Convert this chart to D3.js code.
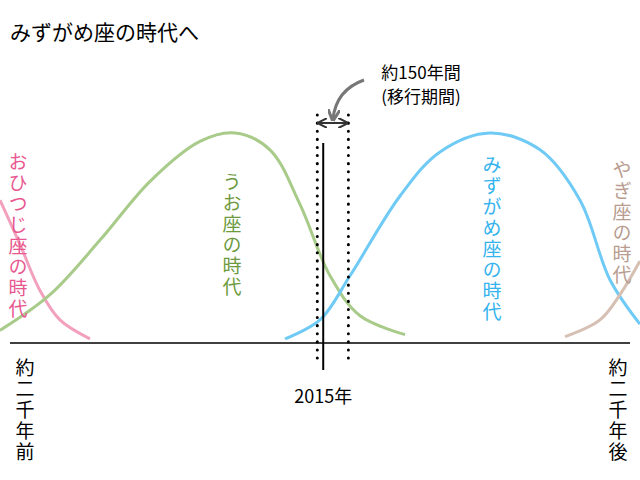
<!DOCTYPE html>
<html><head><meta charset="utf-8">
<script src="https://cdn.jsdelivr.net/npm/d3@7"></script>
<style>body{margin:0;background:#fff}text{font-family:"Noto Sans CJK JP",sans-serif}</style>
</head><body>
<script>
// curves: [year, relative height]
const aries = [[-169,0.68],[-34,0.47],[101,0.25],[236,0.11],[439,0.02]];
const pisces = [[-169,0.06],[169,0.23],[507,0.49],[845,0.77],[1182,0.96],[1419,1.0],[1655,0.92],[1858,0.66],[2061,0.32],[2264,0.13],[2568,0.04]];
const aquarius = [[1757,0.02],[1993,0.11],[2196,0.32],[2534,0.70],[2804,0.91],[3142,1.0],[3480,0.92],[3750,0.68],[3953,0.30],[4155,0.09]];
const capricorn = [[3649,0.03],[3885,0.11],[4020,0.23],[4155,0.39]];
const nowYear = 2015, transition = [1975, 2185];

const width = 640, height = 480;
const x = d3.scaleLinear().domain([0, 4000]).range([25, 617]);
const y = d3.scaleLinear().domain([0, 1]).range([343, 133]);

const svg = d3.select("body").append("svg").attr("width", width).attr("height", height);
svg.append("defs").append("marker").attr("id", "ah").attr("viewBox", "0 0 10 10")
    .attr("refX", 9).attr("refY", 5).attr("markerWidth", 5).attr("markerHeight", 5)
    .attr("orient", "auto-start-reverse")
    .append("path").attr("d", "M0,0L10,5L0,10").attr("fill", "none").attr("stroke", "#333").attr("stroke-width", 2);
svg.append("marker").attr("id", "gh").attr("viewBox", "0 0 10 10")
    .attr("refX", 8).attr("refY", 5).attr("markerWidth", 4).attr("markerHeight", 4).attr("orient", "auto")
    .append("path").attr("d", "M0,0L10,5L0,10").attr("fill", "none").attr("stroke", "#777").attr("stroke-width", 2.5);

const line = d3.line().x(d => x(d[0])).y(d => y(d[1])).curve(d3.curveCatmullRom);
const series = [
    {data: aries, color: "#f2a0bd"},
    {data: pisces, color: "#a8cb8a"},
    {data: aquarius, color: "#6fcaf5"},
    {data: capricorn, color: "#d6bfb3"}
];
series.forEach(s => svg.append("path").attr("d", line(s.data))
    .attr("fill", "none").attr("stroke", s.color).attr("stroke-width", 3));

// baseline
svg.append("line").attr("x1", 10).attr("x2", 630).attr("y1", y(0)).attr("y2", y(0))
    .attr("stroke", "#000").attr("stroke-width", 1.5);

// transition markers
transition.forEach(t => svg.append("line").attr("x1", x(t)).attr("x2", x(t)).attr("y1", 115).attr("y2", 360)
    .attr("stroke", "#000").attr("stroke-width", 3).attr("stroke-dasharray", "0.1 8").attr("stroke-linecap", "round"));
svg.append("line").attr("x1", x(nowYear)).attr("x2", x(nowYear)).attr("y1", 143).attr("y2", 370)
    .attr("stroke", "#000").attr("stroke-width", 2);
svg.append("line").attr("x1", x(transition[0]) + 1).attr("x2", x(transition[1]) - 1).attr("y1", 123).attr("y2", 123)
    .attr("stroke", "#333").attr("stroke-width", 2)
    .attr("marker-start", "url(#ah)").attr("marker-end", "url(#ah)");
svg.append("path").attr("d", `M364,80 Q336,90 333,119`).attr("fill", "none")
    .attr("stroke", "#777").attr("stroke-width", 3).attr("marker-end", "url(#gh)");

svg.append("text").attr("x", 10).attr("y", 40).attr("font-size", 21).text("みずがめ座の時代へ");
svg.append("text").attr("x", 421).attr("y", 79).attr("text-anchor", "middle").attr("font-size", 17).text("約150年間");
svg.append("text").attr("x", 421).attr("y", 103).attr("text-anchor", "middle").attr("font-size", 17).text("(移行期間)");
svg.append("text").attr("x", x(nowYear)).attr("y", 403).attr("text-anchor", "middle").attr("font-size", 18).text(nowYear + "年");

const vlabels = [
    {t: "おひつじ座の時代", x: 18, y: 152, c: "#e8578f"},
    {t: "うお座の時代", x: 232, y: 172, c: "#6e9a3e"},
    {t: "みずがめ座の時代", x: 492, y: 155, c: "#34b3ee"},
    {t: "やぎ座の時代", x: 622, y: 160, c: "#b89c8f"},
    {t: "約二千年前", x: 25, y: 358, c: "#000"},
    {t: "約二千年後", x: 618, y: 358, c: "#000"}
];
vlabels.forEach(l => svg.append("text").attr("x", l.x).attr("y", l.y)
    .attr("writing-mode", "vertical-rl").attr("font-size", 19).attr("fill", l.c)
    .attr("letter-spacing", 2).text(l.t));
</script>
</body></html>
